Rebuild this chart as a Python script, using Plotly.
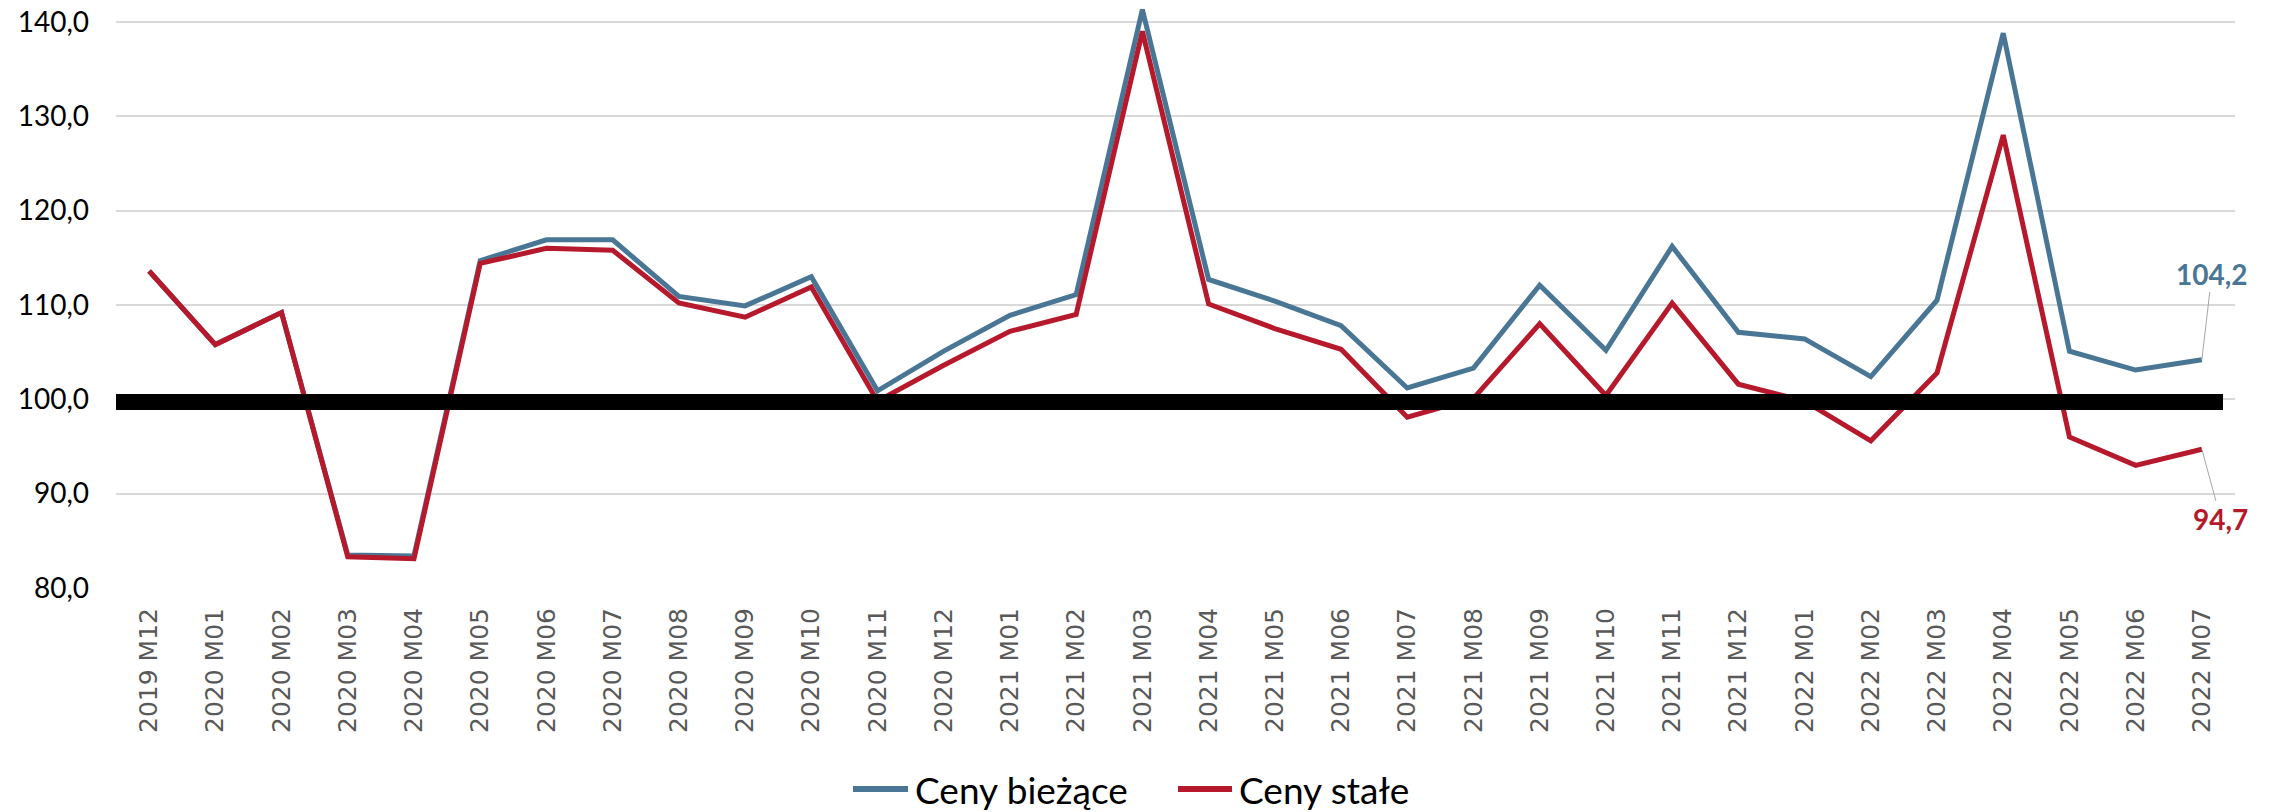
import plotly.graph_objects as go

categories = [
    "2019 M12", "2020 M01", "2020 M02", "2020 M03", "2020 M04", "2020 M05", "2020 M06", "2020 M07",
    "2020 M08", "2020 M09", "2020 M10", "2020 M11", "2020 M12", "2021 M01", "2021 M02", "2021 M03",
    "2021 M04", "2021 M05", "2021 M06", "2021 M07", "2021 M08", "2021 M09", "2021 M10", "2021 M11",
    "2021 M12", "2022 M01", "2022 M02", "2022 M03", "2022 M04", "2022 M05", "2022 M06", "2022 M07",
]

ceny_biezace = [
    113.6, 105.8, 109.2, 83.5, 83.4, 114.7, 116.9, 116.9,
    110.9, 109.9, 113.0, 100.9, 105.1, 108.9, 111.1, 141.3,
    112.7, 110.4, 107.8, 101.2, 103.3, 112.1, 105.2, 116.2,
    107.1, 106.4, 102.4, 110.5, 138.8, 105.1, 103.1, 104.2,
]

ceny_stale = [
    113.6, 105.8, 109.2, 83.3, 83.1, 114.4, 116.0, 115.8,
    110.2, 108.7, 111.9, 99.8, 103.6, 107.2, 109.0, 139.0,
    110.1, 107.5, 105.3, 98.1, 100.1, 108.0, 100.4, 110.2,
    101.6, 99.8, 95.6, 102.8, 128.0, 96.0, 93.0, 94.7,
]

series_names = ["Ceny bieżące", "Ceny stałe"]
reference_level = 100
y_ticks = [80, 90, 100, 110, 120, 130, 140]

BLUE = "#4a7696"
RED = "#b5192b"
FONT = "Lato"

W, H = 2279, 812
ML, MR, MT, MB = 116, 44, 3, 224
PW, PH = W - ML - MR, H - MT - MB


def pl(v):
    return f"{v:.1f}".replace(".", ",")


def px_x(px):
    return (px - ML) / PW


def px_y(py):
    return (H - MB - py) / PH


fig = go.Figure()
fig.add_trace(go.Scatter(x=categories, y=ceny_biezace, mode="lines", name=series_names[0],
                         line=dict(color=BLUE, width=5), showlegend=False))
fig.add_trace(go.Scatter(x=categories, y=ceny_stale, mode="lines", name=series_names[1],
                         line=dict(color=RED, width=5), showlegend=False))

# reference line at 100 (drawn above the series)
fig.add_shape(type="line", xref="paper", yref="y", x0=0, x1=px_x(2223),
              y0=reference_level - 0.3, y1=reference_level - 0.3,
              line=dict(color="black", width=16), layer="above")

# end labels
fig.add_annotation(x=categories[-1], y=ceny_biezace[-1], text=f"<b>{pl(ceny_biezace[-1])}</b>",
                   showarrow=True, arrowhead=0, arrowwidth=1, arrowcolor="#a6a6a6",
                   ax=10, ay=-86, standoff=0,
                   font=dict(family=FONT, size=28, color=BLUE))
fig.add_annotation(x=categories[-1], y=ceny_stale[-1], text=f"<b>{pl(ceny_stale[-1])}</b>",
                   showarrow=True, arrowhead=0, arrowwidth=1, arrowcolor="#a6a6a6",
                   ax=19, ay=70, standoff=0,
                   font=dict(family=FONT, size=28, color=RED))

# legend (drawn below the plot)
legend_items = [(series_names[0], BLUE, 853, 908, 913), (series_names[1], RED, 1178, 1232, 1237)]
for name, color, lx0, lx1, tx in legend_items:
    fig.add_shape(type="line", xref="paper", yref="paper",
                  x0=px_x(lx0), x1=px_x(lx1), y0=px_y(789), y1=px_y(789),
                  line=dict(color=color, width=6))
    fig.add_annotation(xref="paper", yref="paper", x=px_x(tx), y=px_y(789),
                       xanchor="left", yanchor="middle", showarrow=False, text=name,
                       font=dict(family=FONT, size=37, color="black"))

fig.update_layout(
    width=W, height=H,
    margin=dict(l=ML, r=MR, t=MT, b=MB, autoexpand=False),
    paper_bgcolor="white", plot_bgcolor="white",
    separators=", ",
    showlegend=False,
    font=dict(family=FONT),
)

fig.update_xaxes(type="category", range=[-0.5, len(categories) - 0.5], automargin=False,
                 showgrid=False, zeroline=False, showline=False,
                 tickangle=-90, ticks="", ticklabelstandoff=14,
                 tickfont=dict(family="DejaVu Sans", size=25, color="#595959"))
fig.update_yaxes(range=[80, 142], tickvals=y_ticks, tickformat=".1f", automargin=False,
                 showgrid=True, gridcolor="#d9d9d9", gridwidth=1.5,
                 zeroline=False, showline=False, ticks="", ticklabelstandoff=26,
                 tickfont=dict(family=FONT, size=28, color="black"))

fig.write_html("out.html", config={"displayModeBar": False},
               post_script="document.body.style.margin='0';document.body.style.overflow='hidden';")
